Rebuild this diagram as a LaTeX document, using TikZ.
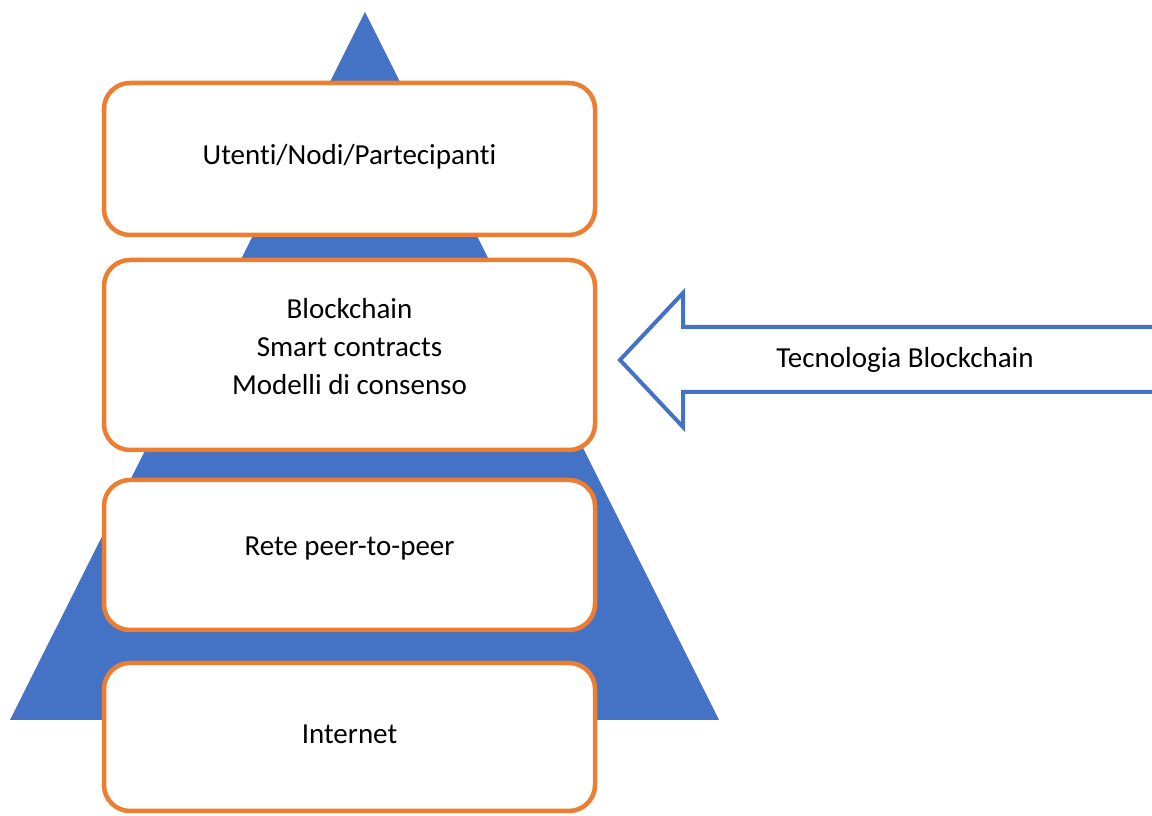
\documentclass[tikz,border=0pt]{standalone}
\usepackage{fontspec}
\setmainfont{Carlito}[Ligatures={NoCommon}]
\definecolor{layerblue}{HTML}{4472C4}
\definecolor{layerorange}{HTML}{ED7D31}
\tikzset{
  layer/.style={draw=layerorange, line width=4.5pt, fill=white, rounded corners=26pt,
    minimum width=491pt, inner sep=0pt},
  label/.style={font=\fontsize{29}{38}\selectfont, inner sep=0pt, align=center}
}
\begin{document}
\begin{tikzpicture}[x=1pt,y=1pt]
\useasboundingbox (0,0) rectangle (1152,816);
\clip (0,0) rectangle (1152,816);
% pyramid behind the layers
\fill[layerblue] (365,804) -- (719,96) -- (10,96) -- cycle;
% stacked layers
\node[layer, minimum height=152pt] (users) at (349.5,657) {};
\node[layer, minimum height=190pt] (chain) at (349.5,461) {};
\node[layer, minimum height=150pt] (p2p) at (349.5,261) {};
\node[layer, minimum height=148pt] (net) at (349.5,79) {};
% layer captions
\node[label] (usersText) at ([yshift=2pt]users.center) {Utenti/Nodi/Partecipanti};
\node[label] (chainText) at ([yshift=8pt]chain.center) {Blockchain\\Smart contracts\\Modelli di consenso};
\node[label] (p2pText) at ([yshift=6pt]p2p.center) {Rete peer-to-peer};
\node[label] (netText) at ([yshift=3pt]net.center) {Internet};
% block arrow pointing at the blockchain layer
\draw[layerblue, line width=4pt, line join=miter]
  (1160,489) -- (683,489) -- (683,523) -- (620,456) -- (683,389) -- (683,424) -- (1160,424);
\node[label] (tech) at (905,456) {Tecnologia Blockchain};
\end{tikzpicture}
\end{document}
